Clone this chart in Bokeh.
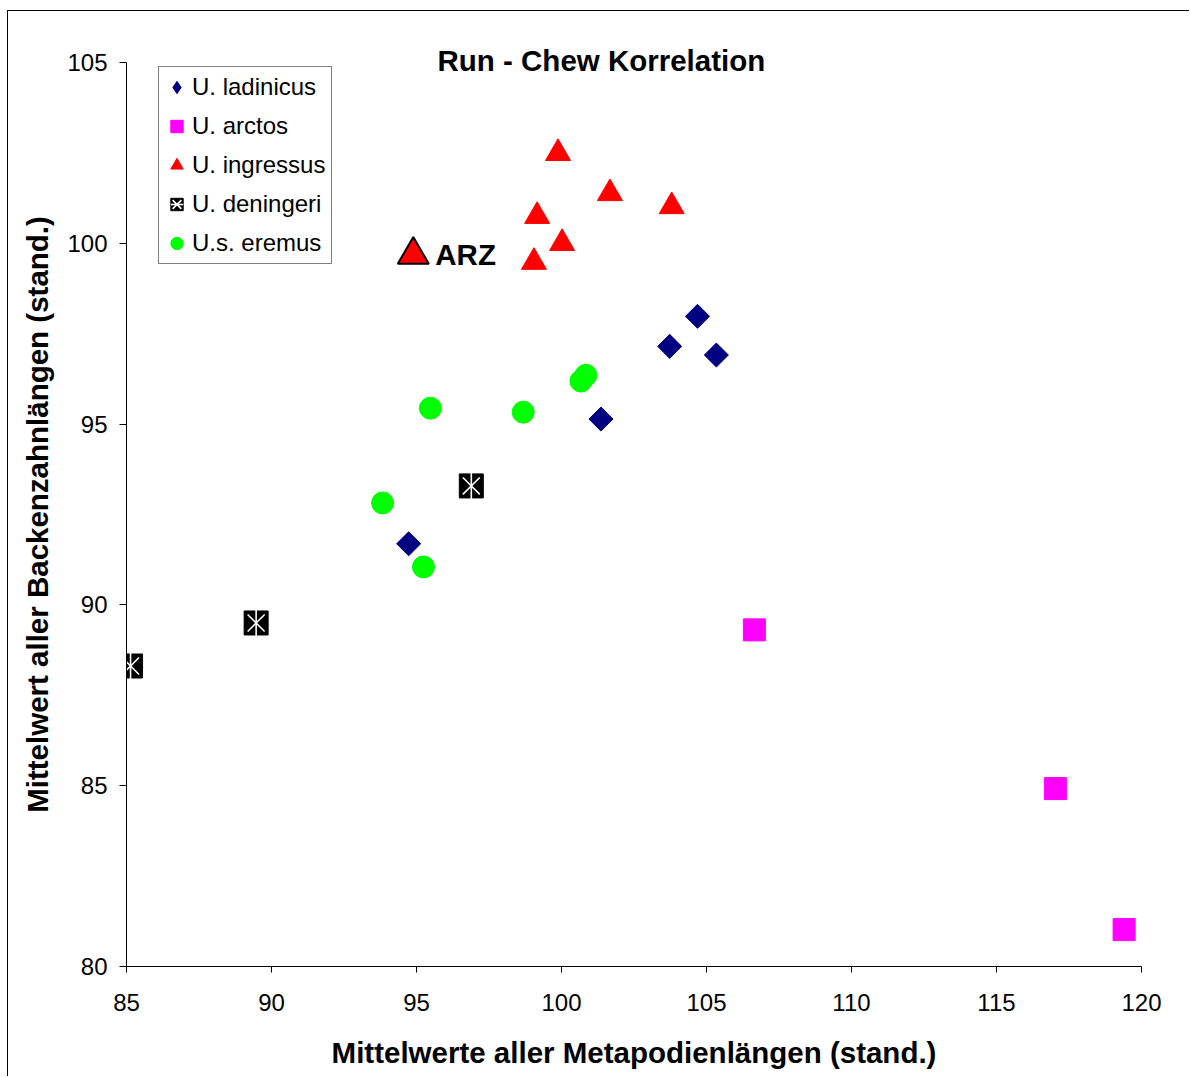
import numpy as np
from bokeh.plotting import figure
from bokeh.models import Range1d, Label, Legend, LegendItem, FixedTicker
from bokeh.embed import file_html
from bokeh.resources import INLINE

# ---- data ----
ladinicus_x = [104.69, 103.73, 105.34, 101.36, 94.73]
ladinicus_y = [97.98, 97.15, 96.91, 95.14, 91.69]
arctos_x = [106.65, 117.03, 119.40]
arctos_y = [89.31, 84.92, 81.02]
ingressus_x = [99.88, 101.67, 103.80, 99.16, 100.02, 99.05]
ingressus_y = [102.49, 101.38, 101.02, 100.75, 100.00, 99.48]
deningeri_x = [85.14, 89.47, 96.89]
deningeri_y = [88.31, 89.50, 93.29]
eremus_x = [93.83, 95.24, 95.48, 98.68, 100.67, 100.84]
eremus_y = [92.82, 91.05, 95.44, 95.33, 96.19, 96.35]
arz_x = [94.89]
arz_y = [99.68]
arz_label = "ARZ"

series_names = ["U. ladinicus", "U. arctos", "U. ingressus", "U. deningeri", "U.s. eremus"]
x_ticks = [85, 90, 95, 100, 105, 110, 115, 120]
y_ticks = [80, 85, 90, 95, 100, 105]

title_text = "Run - Chew Korrelation"
x_label = "Mittelwerte aller Metapodienlängen (stand.)"
y_label = "Mittelwert aller Backenzahnlängen (stand.)"

FONT = "Liberation Sans"
BOLD_SIZE = "29.5px"

p = figure(width=1182, height=1066,
           x_range=Range1d(85, 120), y_range=Range1d(80, 105),
           output_backend="svg", toolbar_location=None,
           min_border_left=118, min_border_right=49,
           min_border_top=51, min_border_bottom=111,
           margin=(10, 0, 0, 7),
           styles={"border-left": "1px solid black", "border-top": "1px solid black"})

p.background_fill_color = "white"
p.border_fill_color = "white"
p.outline_line_color = None
p.xgrid.visible = False
p.ygrid.visible = False

# title: sits just inside the top of the plot area, left of centre
p.title.text = title_text
p.title.align = "left"
p.title.offset = 311
p.title.vertical_align = "bottom"
p.title.standoff = -28
p.title.text_font = FONT
p.title.text_font_size = BOLD_SIZE
p.title.text_font_style = "bold"
p.title.text_color = "black"

for ax in (p.xaxis[0], p.yaxis[0]):
    ax.axis_line_color = "black"
    ax.axis_line_width = 1
    ax.major_tick_line_color = "black"
    ax.major_tick_in = 0
    ax.minor_tick_line_color = None
    ax.major_label_text_font = FONT
    ax.major_label_text_font_size = "24px"
    ax.major_label_text_color = "black"
    ax.axis_label_text_font = FONT
    ax.axis_label_text_font_size = BOLD_SIZE
    ax.axis_label_text_font_style = "bold"
    ax.axis_label_text_color = "black"

p.xaxis.ticker = FixedTicker(ticks=x_ticks)
p.yaxis.ticker = FixedTicker(ticks=y_ticks)
p.xaxis.major_tick_out = 6
p.yaxis.major_tick_out = 7
p.xaxis.major_label_standoff = 21
p.yaxis.major_label_standoff = 12
p.xaxis.axis_label = x_label
p.yaxis.axis_label = y_label
p.xaxis.axis_label_standoff = 22
p.yaxis.axis_label_standoff = 10

# ---- series ----
r_lad = p.scatter(ladinicus_x, ladinicus_y, marker="square", angle=np.pi / 4, size=17,
                  fill_color="#000080", line_color="#000080")
# diamond drawn inside the rotated squares; used as the (unrotated) legend swatch
r_lad_leg = p.scatter(ladinicus_x, ladinicus_y, marker="diamond", size=18,
                      fill_color="#000080", line_color="#000080")
r_arc = p.scatter(arctos_x, arctos_y, marker="square", size=22,
                  fill_color="#FF00FF", line_color="#FF00FF")
r_ing = p.scatter(ingressus_x, ingressus_y, marker="triangle", size=25,
                  fill_color="#FF0000", line_color="#FF0000")
r_den_sq = p.scatter(deningeri_x, deningeri_y, marker="square", size=24,
                     fill_color="black", line_color="black")
r_den_x = p.scatter(deningeri_x, deningeri_y, marker="x", size=24,
                    line_color="white", line_width=1.6)
r_den_v = p.scatter(deningeri_x, deningeri_y, marker="dash", angle=np.pi / 2, size=26,
                    line_color="white", line_width=1.6)
r_ere = p.scatter(eremus_x, eremus_y, marker="circle", size=22,
                  fill_color="#00FF00", line_color="#00FF00")

r_arz = p.scatter(arz_x, arz_y, marker="triangle", size=31,
                  fill_color="#FF0000", line_color="black", line_width=2)
p.add_layout(Label(x=arz_x[0], y=arz_y[0], text=arz_label, x_offset=22, y_offset=0,
                   text_font=FONT, text_font_size=BOLD_SIZE, text_font_style="bold",
                   text_color="black", text_baseline="alphabetic", text_align="left"))

# ---- legend ----
legend = Legend(items=[
    LegendItem(label=series_names[0], renderers=[r_lad_leg]),
    LegendItem(label=series_names[1], renderers=[r_arc]),
    LegendItem(label=series_names[2], renderers=[r_ing]),
    LegendItem(label=series_names[3], renderers=[r_den_sq, r_den_x, r_den_v]),
    LegendItem(label=series_names[4], renderers=[r_ere]),
], location=(32, 702))
legend.glyph_width = 31
legend.glyph_height = 36
legend.padding = 2
legend.spacing = 3
legend.label_standoff = 0
legend.label_width = 137
legend.margin = 0
legend.border_line_color = "black"
legend.border_line_width = 1
legend.background_fill_color = "white"
legend.background_fill_alpha = 1
legend.label_text_font = FONT
legend.label_text_font_size = "24px"
legend.label_text_color = "black"
p.add_layout(legend, "center")

open("out.html", "w").write(file_html(p, INLINE))
